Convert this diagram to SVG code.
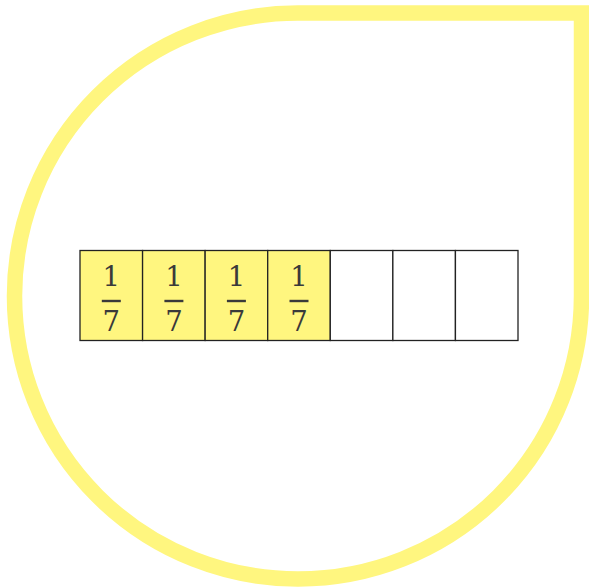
<svg xmlns="http://www.w3.org/2000/svg" width="589" height="588" viewBox="0 0 589 588">
<style>
.cell{stroke:#222;stroke-width:1.3}
.on{fill:#fff67f}
.off{fill:#ffffff}
.t{font-family:"DejaVu Serif","Liberation Serif",serif;font-size:27.5px;fill:#3a3a3a;text-anchor:middle}
.bar{stroke:#3a3a3a;stroke-width:2.4}
</style>
<rect width="589" height="588" fill="#ffffff"/>
<g id="frame">
<path d="M298 13 H581.5 V296 A283.5 283 0 1 1 298 13 Z" fill="none" stroke="#fff67f" stroke-width="15.5"/>
</g>
<g id="cells">
<rect class="cell on" x="80" y="250.5" width="62.57" height="90"/>
<rect class="cell on" x="142.57" y="250.5" width="62.57" height="90"/>
<rect class="cell on" x="205.14" y="250.5" width="62.57" height="90"/>
<rect class="cell on" x="267.71" y="250.5" width="62.57" height="90"/>
<rect class="cell off" x="330.29" y="250.5" width="62.57" height="90"/>
<rect class="cell off" x="392.86" y="250.5" width="62.57" height="90"/>
<rect class="cell off" x="455.43" y="250.5" width="62.57" height="90"/>
</g>
<g id="fractions">
<g id="f1"><text class="t" x="111.3" y="286">1</text><line class="bar" x1="101.8" y1="301" x2="120.8" y2="301"/><text class="t" x="111.3" y="331">7</text></g>
<g id="f2"><text class="t" x="173.9" y="286">1</text><line class="bar" x1="164.4" y1="301" x2="183.4" y2="301"/><text class="t" x="173.9" y="331">7</text></g>
<g id="f3"><text class="t" x="236.4" y="286">1</text><line class="bar" x1="226.9" y1="301" x2="245.9" y2="301"/><text class="t" x="236.4" y="331">7</text></g>
<g id="f4"><text class="t" x="299" y="286">1</text><line class="bar" x1="289.5" y1="301" x2="308.5" y2="301"/><text class="t" x="299" y="331">7</text></g>
</g>
</svg>
